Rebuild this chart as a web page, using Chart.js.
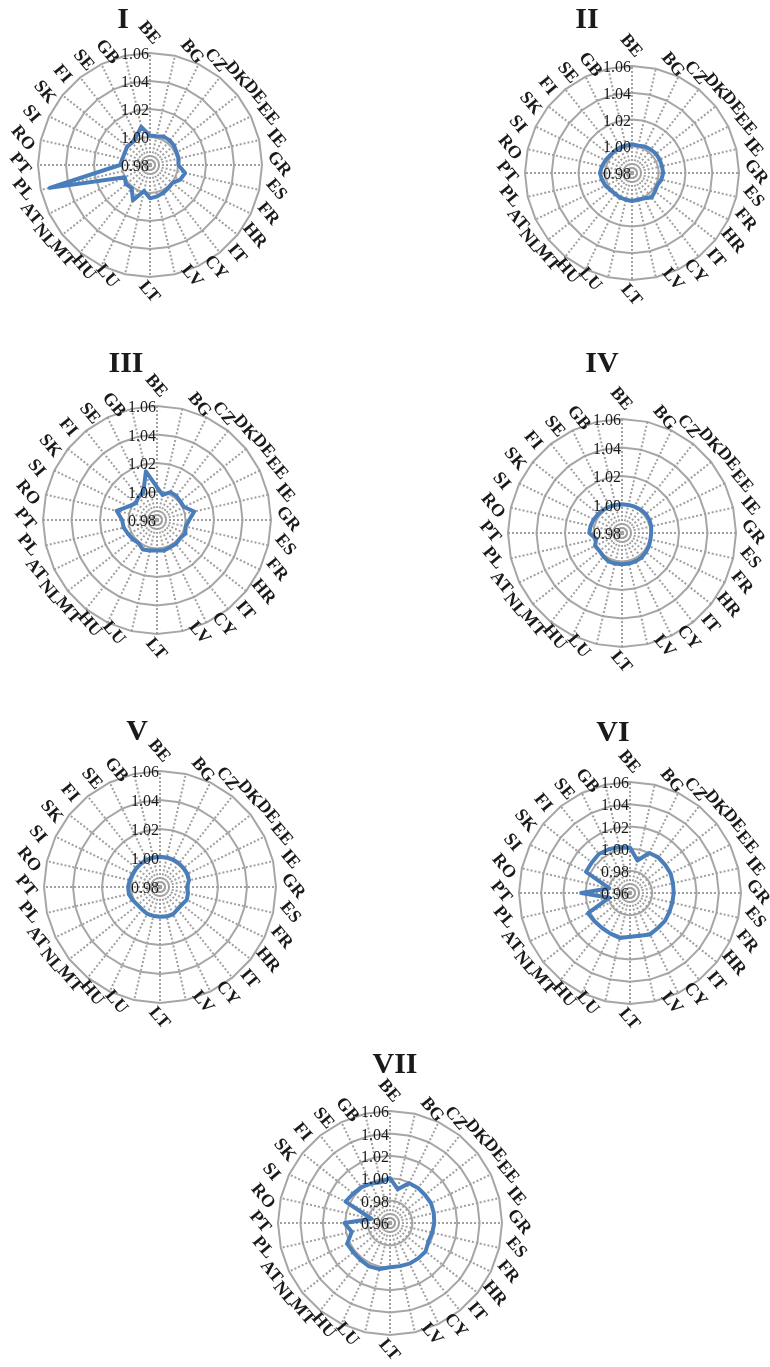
<!DOCTYPE html>
<html>
<head>
<meta charset="utf-8">
<script src="https://cdn.jsdelivr.net/npm/chart.js@4.4.0/dist/chart.umd.min.js"></script>
<style>
html, body { margin:0; padding:0; background:#fff; overflow:hidden; }
body { width:770px; height:1367px; position:relative; }
canvas { position:absolute; }
.ttl { position:absolute; font:bold 30px "Liberation Serif","Times New Roman",serif; line-height:30px;
       color:#1a1a1a; transform:translate(-50%,-50%); white-space:nowrap; }
</style>
</head>
<body>
<script>
const countries = ["BE","BG","CZ","DK","DE","EE","IE","GR","ES","FR","HR","IT","CY","LV",
                   "LT","LU","HU","MT","NL","AT","PL","PT","RO","SI","SK","FI","SE","GB"];

const valsI   = [1.001,1.001,1.0025,1.0025,1.002,1.001,1.001,1.0003,1.0057,1.004,1.0005,1.001,1.002,1.003,
                 1.0038,0.999,1.008,1.001,1.002,1.000,1.0534,1.0014,1.0002,1.000,1.001,1.0005,1.0026,1.008];
const valsII  = [1.0015,1.001,1.002,1.0025,1.003,1.003,1.003,1.0033,1.0025,1.001,1.002,1.0035,1.001,1.0005,
                 1.001,1.0005,1.0005,1.000,1.0005,1.002,1.003,1.004,1.003,1.002,1.001,1.001,1.001,1.001];
const valsIII = [1.003,0.998,1.0017,1.0017,1.001,1.001,1.0068,1.0026,1.0007,1.002,1.0007,1.0014,1.0012,1.002,
                 1.0014,1.002,1.003,1.0007,1.0017,1.0025,1.004,1.0045,1.009,1.002,0.999,1.0007,1.002,1.015];
const valsIV  = [1.0002,1.0002,1.0005,1.001,1.0014,1.0014,1.001,1.0005,1.0005,1.001,1.0014,1.002,1.002,1.002,
                 1.002,1.002,1.002,1.001,1.0002,1.001,0.9986,1.003,1.0026,1.002,1.0014,1.001,1.0005,1.0002];
const valsV   = [1.0009,1.0009,1.0009,1.0009,1.0009,1.001,1.0005,0.9986,0.9998,1.0005,0.9993,0.9995,1.0009,1.0009,
                 1.0005,1.0005,1.0005,0.9998,0.9998,1.0009,1.002,1.002,1.0014,1.0009,1.0009,1.0009,1.0009,1.0009];
const valsVI  = [1.0009,0.990,1.000,1.001,1.0006,1.0006,0.9997,0.9994,0.999,0.9994,1.0003,1.0003,1.0015,0.9994,
                 0.9994,1.0015,1.0006,1.0003,1.0009,1.002,0.979,1.004,0.979,1.004,1.004,1.005,1.0037,1.0025];
const valsVII = [1.0001,0.991,0.9995,1.0001,1.0001,1.0007,1.0001,0.9995,0.9986,0.998,1.0007,1.0004,1.0003,0.9995,
                 0.9995,1.0022,1.003,1.0022,1.0019,1.0025,0.995,1.0007,0.977,1.0041,1.002,1.001,0.999,0.9974];

const titles   = ["I","II","III","IV","V","VI","VII"];
const series   = [valsI, valsII, valsIII, valsIV, valsV, valsVI, valsVII];
const axisMin  = [0.98, 0.98, 0.98, 0.98, 0.98, 0.96, 0.96];
const axisMax  = 1.06;
const axisStep = 0.02;

// where each panel sits on the page (centre, radius, title spot)
const panels = [
  {cx:150, cy:165,  r:112, tx:123, ty:18},
  {cx:632, cy:173,  r:107, tx:587, ty:18},
  {cx:157, cy:520,  r:114, tx:126, ty:362},
  {cx:622, cy:533,  r:114, tx:602, ty:362},
  {cx:160, cy:887,  r:116, tx:137, ty:730},
  {cx:630, cy:893,  r:111, tx:613, ty:731},
  {cx:390, cy:1223, r:112, tx:395, ty:1063}
];
const PAD = 50;

// tick values + rotated category names, drawn on the radial scale
const radarText = {
  id: "radarText",
  afterDraw(chart){
    const sc = chart.scales.r, ctx = chart.ctx;
    const n = countries.length;
    ctx.save();
    ctx.fillStyle = "#1a1a1a";
    ctx.font = '16px "Liberation Serif"';
    ctx.textAlign = "right";
    ctx.textBaseline = "middle";
    sc.ticks.forEach(t => {
      const d = sc.getDistanceFromCenterForValue(t.value);
      ctx.fillText(t.value.toFixed(2), sc.xCenter - 1, sc.yCenter - d + 2);
    });
    ctx.font = 'bold 18px "Liberation Serif"';
    ctx.textAlign = "center";
    countries.forEach((c, i) => {
      const v = sc.getPointPosition(i, sc.drawingArea);
      const a = sc.getIndexAngle(i);
      let x, y;
      if (i === 0) { x = v.x - 1; y = v.y - 20; }          // top
      else if (2 * i === n) { x = v.x - 1; y = v.y + 15; }   // bottom
      else {                                                 // beside the vertex
        x = v.x + (Math.sin(a) > 0 ? 17 : -18);
        y = v.y - 1 - 3 * Math.cos(a);
      }
      ctx.save();
      ctx.translate(x, y);
      ctx.rotate(50 * Math.PI / 180);
      ctx.fillText(c, 0, 0);
      ctx.restore();
    });
    ctx.restore();
  }
};

panels.forEach((p, k) => {
  const size = 2 * p.r + 2 * PAD;
  const cv = document.createElement("canvas");
  cv.width = size; cv.height = size;
  cv.style.left = (p.cx - p.r - PAD) + "px";
  cv.style.top  = (p.cy - p.r - PAD) + "px";
  document.body.appendChild(cv);

  const t = document.createElement("div");
  t.className = "ttl";
  t.textContent = titles[k];
  t.style.left = p.tx + "px";
  t.style.top  = p.ty + "px";
  document.body.appendChild(t);

  new Chart(cv.getContext("2d"), {
    type: "radar",
    data: {
      labels: countries,
      datasets: [{
        data: series[k],
        borderColor: "#4a7ebb",
        borderWidth: 4,
        borderJoinStyle: "round",
        borderCapStyle: "round",
        backgroundColor: "rgba(0,0,0,0)",
        fill: false,
        pointRadius: 0,
        tension: 0
      }]
    },
    options: {
      responsive: false,
      animation: false,
      devicePixelRatio: 1,
      layout: { padding: PAD },
      plugins: { legend: { display:false }, tooltip: { enabled:false } },
      scales: {
        r: {
          min: axisMin[k],
          max: axisMax,
          ticks: { stepSize: axisStep, display: false },
          pointLabels: { display: false },
          grid: { circular: false, color: "#a6a6a6", lineWidth: 2 },
          angleLines: { color: "#a0a0a0", lineWidth: 2, borderDash: [2, 2] }
        }
      }
    },
    plugins: [radarText]
  });
});
</script>
</body>
</html>
